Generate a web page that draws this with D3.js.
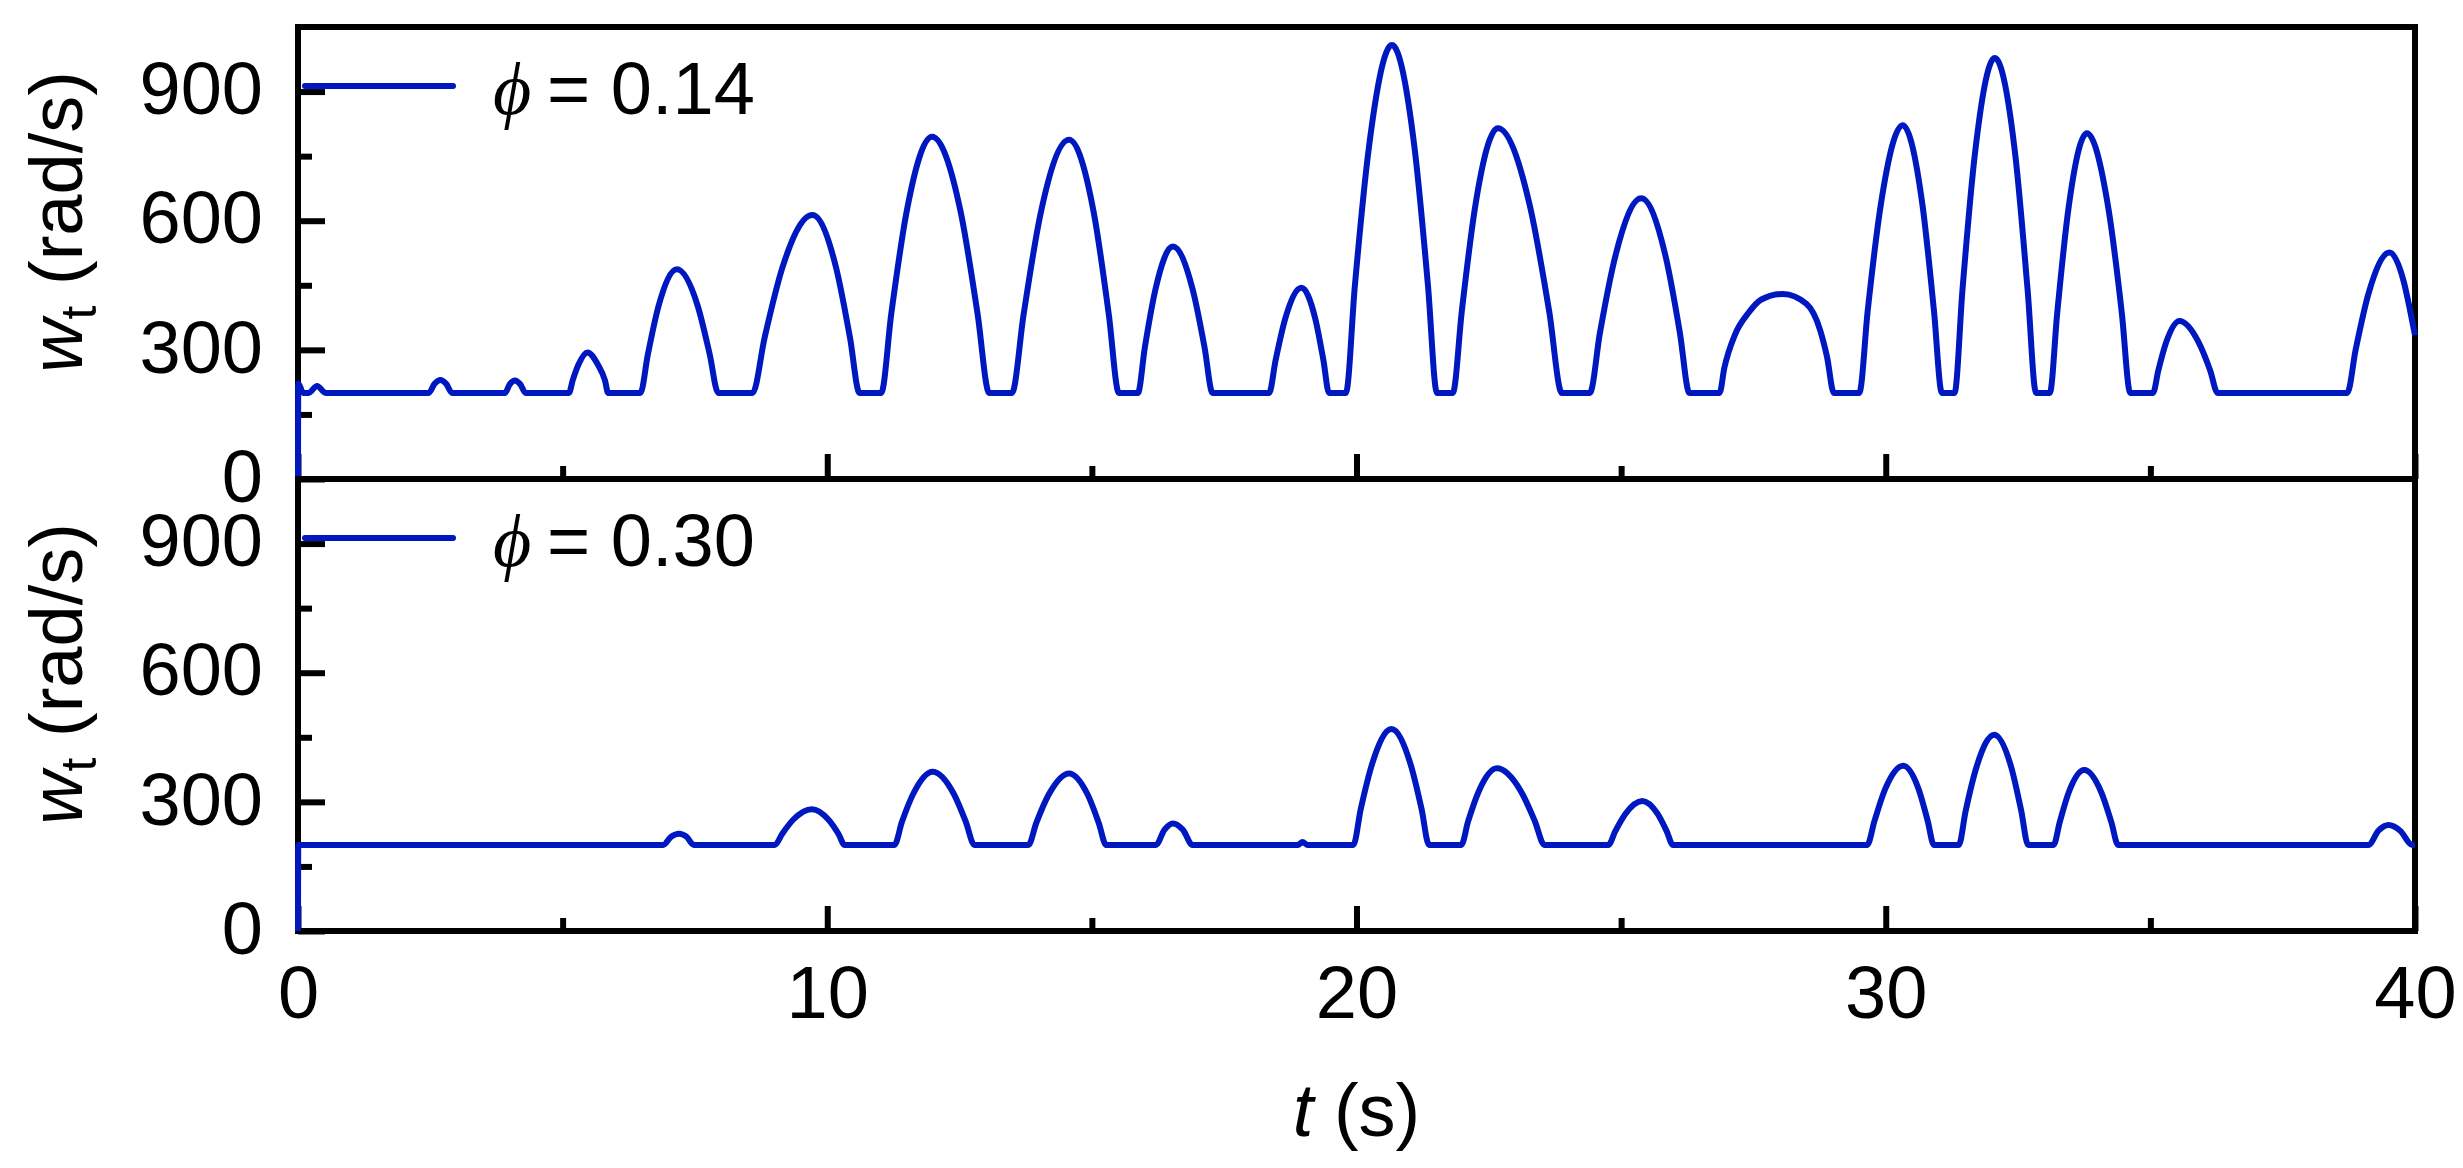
<!DOCTYPE html>
<html>
<head>
<meta charset="utf-8">
<script src="https://cdn.jsdelivr.net/npm/d3@7"></script>
<style>
    body { margin: 0; background: #ffffff; }
    svg { display: block; }
</style>
</head>
<body>
<div id="chart"></div>
<script>
// time (s) and turbine speed (rad/s), phi = 0.14
const timeLow = [0, 0.005, 0.1, 0.2, 0.36, 0.52,
    2.47, 2.58, 2.69, 2.80, 2.91,
    3.91, 4.00, 4.10, 4.20, 4.30,
    5.12, 5.19, 5.30, 5.47, 5.665, 5.80, 5.86,
    6.47, 6.61, 6.815, 7.16, 7.55, 7.78, 7.94,
    8.59, 8.816, 9.155, 9.72, 10.165, 10.43, 10.61,
    11.02, 11.21, 11.50, 11.98, 12.52, 12.84, 13.06,
    13.49, 13.71, 14.03, 14.57, 15.04, 15.32, 15.51,
    15.87, 16.00, 16.20, 16.53, 16.905, 17.13, 17.28,
    18.35, 18.47, 18.655, 18.96, 19.22, 19.376, 19.48,
    19.80, 19.97, 20.235, 20.67, 21.095, 21.35, 21.52,
    21.82, 21.99, 22.245, 22.67, 23.275, 23.64, 23.88,
    24.41, 24.60, 24.895, 25.38, 25.835, 26.11, 26.29,
    26.86, 26.95, 27.15, 27.40, 27.65, 28.06, 28.50, 28.76, 28.89, 29.02,
    29.50, 29.66, 29.91, 30.32, 30.69, 30.91, 31.06,
    31.30, 31.45, 31.68, 32.06, 32.45, 32.68, 32.84,
    33.10, 33.24, 33.45, 33.80, 34.21, 34.46, 34.62,
    35.05, 35.15, 35.30, 35.55, 35.91, 36.13, 36.27,
    38.72, 38.88, 39.12, 39.52, 39.78, 39.91, 40];
const omegaLow = [0, 222, 200, 200, 216, 200,
    200, 221, 230, 221, 200,
    200, 220, 229, 220, 200,
    200, 229, 266, 294, 266, 229, 200,
    200, 289, 403, 487, 403, 289, 200,
    200, 328, 492, 613, 492, 328, 200,
    200, 384, 621, 795, 621, 384, 200,
    200, 382, 616, 788, 616, 382, 200,
    200, 305, 440, 540, 440, 305, 200,
    200, 275, 373, 444, 373, 275, 200,
    200, 450, 771, 1008, 771, 450, 200,
    200, 390, 635, 815, 635, 390, 200,
    200, 340, 520, 652, 520, 340, 200,
    200, 258, 335, 385, 417, 430, 407, 346, 284, 200,
    200, 392, 640, 822, 640, 392, 200,
    200, 440, 750, 978, 750, 440, 200,
    200, 386, 626, 803, 626, 386, 200,
    200, 252, 318, 367, 318, 252, 200,
    200, 301, 430, 526, 462, 390, 334];

// time (s) and turbine speed (rad/s), phi = 0.30
const timeHigh = [0, 0.005, 6.90, 7.05, 7.20, 7.34, 7.48,
    9.01, 9.15, 9.36, 9.71, 10.02, 10.21, 10.33,
    11.27, 11.41, 11.63, 11.99, 12.385, 12.62, 12.78,
    13.80, 13.95, 14.185, 14.57, 14.92, 15.13, 15.27,
    16.21, 16.37, 16.53, 16.72, 16.90,
    18.90, 18.98, 19.07,
    19.94, 20.08, 20.30, 20.66, 21.015, 21.23, 21.37,
    21.98, 22.11, 22.315, 22.65, 23.10, 23.37, 23.55,
    24.76, 24.89, 25.08, 25.40, 25.69, 25.86, 25.98,
    29.65, 29.79, 29.99, 30.33, 30.62, 30.79, 30.91,
    31.38, 31.51, 31.715, 32.05, 32.37, 32.56, 32.69,
    33.17, 33.29, 33.46, 33.75, 34.07, 34.26, 34.39,
    39.12, 39.31, 39.50, 39.72, 39.95, 40];
const omegaHigh = [0, 200, 200, 219, 226, 219, 200,
    200, 226, 259, 283, 259, 226, 200,
    200, 253, 320, 370, 320, 253, 200,
    200, 251, 317, 366, 317, 251, 200,
    200, 235, 250, 235, 200,
    200, 207, 200,
    200, 283, 390, 469, 390, 283, 200,
    200, 255, 326, 378, 326, 255, 200,
    200, 232, 272, 302, 272, 232, 200,
    200, 257, 330, 384, 330, 257, 200,
    200, 279, 381, 456, 381, 279, 200,
    200, 254, 323, 374, 323, 254, 200,
    200, 233, 246, 233, 200, 200];

// axis ticks and legend labels
const xMajor = [0, 10, 20, 30, 40];
const xMinor = [5, 15, 25, 35];
const yMajor = [0, 300, 600, 900];
const yMinor = [150, 450, 750];
const legendValues = ["0.14", "0.30"];

const FONT = "'Liberation Sans', Arial, sans-serif";
const BLUE = "#0018c0";


/**
 * Starts drawing once the page has loaded.
 */
window.onload = function() {
    main();
};


/**
 * Sets dimensions and draws both panels plus the shared axis title.
 */
function main() {
    let w = 2463;
    let h = 1168;
    let margins = {top: 27, left: 298, right: 48};
    let width = w - margins.left - margins.right;
    let panelHeight = 452;
    let dims = {w: w, h: h, margins: margins, width: width,
                panelHeight: panelHeight};

    let svg = d3.select("#chart")
                .append("svg")
                .attr("width", w)
                .attr("height", h);

    let xScale = d3.scaleLinear()
                   .domain([0, 40])
                   .range([0, width]);

    let yScale = d3.scaleLinear()
                   .domain([0, 1050])
                   .range([panelHeight, 0]);

    makePanel(svg, dims, xScale, yScale, margins.top,
              d3.zip(timeLow, omegaLow), legendValues[0], false);
    makePanel(svg, dims, xScale, yScale, margins.top + panelHeight,
              d3.zip(timeHigh, omegaHigh), legendValues[1], true);

    // x axis title
    let xTitle = svg.append("text")
                    .attr("x", margins.left + width / 2)
                    .attr("y", 1136)
                    .attr("text-anchor", "middle")
                    .attr("font-size", 74)
                    .attr("font-family", FONT)
                    .attr("fill", "#000");
    xTitle.append("tspan").attr("font-style", "italic").text("t");
    xTitle.append("tspan").text(" (s)");
}


/**
 * Draws one panel: ticks, frame, labels, the speed line and its legend.
 */
function makePanel(svg, dims, xScale, yScale, top, points, legendValue,
                   showXLabels) {
    let g = svg.append("g")
               .attr("transform",
                     "translate(" + dims.margins.left + "," + top + ")");

    // minor and major y ticks, pointing inwards
    g.append("g")
     .call(d3.axisLeft(yScale).tickValues(yMinor).tickFormat("")
             .tickSizeInner(-14).tickSizeOuter(0))
     .call(styleAxis);

    let yAxis = g.append("g")
                 .call(d3.axisLeft(yScale).tickValues(yMajor)
                         .tickSizeInner(-27).tickSizeOuter(0).tickPadding(35))
                 .call(styleAxis);
    yAxis.selectAll("text")
         .attr("dy", "0.3em")
         .attr("font-size", 74)
         .attr("font-family", FONT)
         .attr("fill", "#000");

    // minor and major x ticks on the bottom edge
    g.append("g")
     .attr("transform", "translate(0," + dims.panelHeight + ")")
     .call(d3.axisBottom(xScale).tickValues(xMinor).tickFormat("")
             .tickSizeInner(-13).tickSizeOuter(0))
     .call(styleAxis);

    let xAxis = g.append("g")
                 .attr("transform", "translate(0," + dims.panelHeight + ")")
                 .call(d3.axisBottom(xScale).tickValues(xMajor)
                         .tickSizeInner(-25).tickSizeOuter(0).tickPadding(34))
                 .call(styleAxis);
    if (showXLabels) {
        xAxis.selectAll("text")
             .attr("font-size", 74)
             .attr("font-family", FONT)
             .attr("fill", "#000");
    }
    else {
        xAxis.selectAll("text").remove();
    }

    // panel frame
    g.append("rect")
     .attr("x", 0)
     .attr("y", 0)
     .attr("width", dims.width)
     .attr("height", dims.panelHeight)
     .attr("fill", "none")
     .attr("stroke", "#000")
     .attr("stroke-width", 6);

    // speed line
    let line = d3.line()
                 .x(function(d) { return xScale(d[0]); })
                 .y(function(d) { return yScale(d[1]); })
                 .curve(d3.curveMonotoneX);

    g.append("path")
     .datum(points)
     .attr("d", line)
     .attr("fill", "none")
     .attr("stroke", BLUE)
     .attr("stroke-width", 6)
     .attr("stroke-linejoin", "round");

    // legend
    g.append("line")
     .attr("x1", 7)
     .attr("x2", 155)
     .attr("y1", 59)
     .attr("y2", 59)
     .attr("stroke", BLUE)
     .attr("stroke-width", 6)
     .attr("stroke-linecap", "round");

    let legend = g.append("text")
                  .attr("y", 87)
                  .attr("font-size", 74)
                  .attr("font-family", FONT)
                  .attr("fill", "#000");
    legend.append("tspan")
          .attr("x", 195)
          .attr("font-family", "'Liberation Serif', 'DejaVu Serif', serif")
          .attr("font-style", "italic")
          .text("\u03d5");
    legend.append("tspan")
          .attr("x", 249)
          .text("= " + legendValue);

    // y axis title, centred a little above the panel middle
    let yTitle = svg.append("text")
                    .attr("transform", "translate(82," +
                          (top + dims.panelHeight / 2 - 31) + ") rotate(-90)")
                    .attr("text-anchor", "middle")
                    .attr("font-size", 74)
                    .attr("font-family", FONT)
                    .attr("fill", "#000");
    yTitle.append("tspan").attr("font-style", "italic").text("w");
    yTitle.append("tspan")
          .attr("font-size", 50)
          .attr("dy", 14)
          .text("t");
    yTitle.append("tspan")
          .attr("dy", -14)
          .text(" (rad/s)");
}


/**
 * Removes the axis domain line and thickens the tick marks.
 */
function styleAxis(axis) {
    axis.select(".domain").remove();
    axis.selectAll(".tick line")
        .attr("stroke", "#000")
        .attr("stroke-width", 6);
}
</script>
</body>
</html>
